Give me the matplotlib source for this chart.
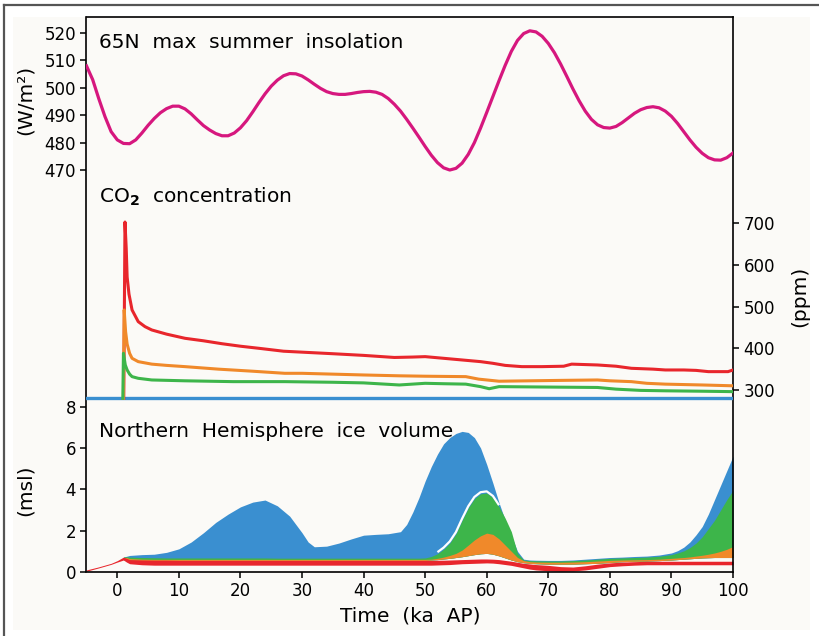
import numpy as np
import matplotlib
matplotlib.use("Agg")
import matplotlib.pyplot as plt
from matplotlib.lines import Line2D
from matplotlib.patches import Rectangle

nan = np.nan

# ---------------- data ----------------
# 65N max summer insolation (W/m2), 1 ka steps from -5 to 100 ka AP
ins_ka = np.arange(-5, 101, 1)
ins_wm2 = [508, 503, 496, 489.5, 484, 481, 479.7, 479.6, 481, 483.5,
           486.3, 488.8, 490.9, 492.4, 493.3, 493.3, 492.3, 490.5, 488.3, 486.2,
           484.6, 483.3, 482.5, 482.5, 483.5, 485.4, 488, 491.2, 494.6, 497.8,
           500.6, 502.8, 504.4, 505.2, 505.1, 504.3, 502.9, 501.3, 499.8, 498.6,
           497.9, 497.6, 497.6, 497.9, 498.3, 498.6, 498.7, 498.4, 497.6, 496.1,
           494, 491.5, 488.5, 485.3, 482, 478.6, 475.4, 472.7, 470.8, 470,
           470.6, 472.5, 475.7, 480, 485.3, 491, 496.8, 502.6, 508.2, 513.3,
           517.3, 519.8, 520.8, 520.4, 518.8, 516.2, 512.8, 508.7, 504.2, 499.6,
           495.3, 491.5, 488.5, 486.5, 485.5, 485.3, 485.9, 487.3, 489, 490.7,
           492, 492.8, 493.1, 492.7, 491.5, 489.6, 487, 484, 481, 478.3,
           476.1, 474.5, 473.7, 473.6, 474.5, 476.2]

# CO2 concentration (ppm)
base_ka = [-5, 100]
base_ppm = [280, 280]
red_ka = [1.05, 1.25, 1.45, 1.6, 1.9, 2.4, 3.4, 4.5, 5.6, 8, 11, 14, 17, 20, 23, 27,
          31, 35, 40, 45, 48, 50, 53, 56, 59, 61, 63, 65.7, 69, 72.5, 73.8, 78, 81,
          83.5, 87, 89, 92, 94, 96, 99.2, 100]
red_ppm = [280, 703, 640, 571, 530, 492, 464, 452, 444, 434, 424, 418, 411, 405, 400, 393,
           390, 387, 383, 378, 379, 380, 376, 372, 368, 364, 359, 356, 356, 357, 362, 360, 357,
           352, 350, 348, 348, 347, 344, 344, 348]
orange_ka = [1.0, 1.12, 1.35, 1.6, 2.0, 2.4, 3.4, 5.6, 8, 11, 16.4, 22, 27.2, 30, 35, 40,
             45.8, 50, 56.6, 58.7, 62, 67, 72, 78, 80, 83.5, 86, 89, 95, 100]
orange_ppm = [280, 492, 440, 410, 388, 376, 368, 362, 359, 356, 350, 345, 340, 340, 338, 336,
              334, 333, 332, 326, 321, 322, 323, 324, 322, 320, 316, 314, 312, 310]
green_ka = [0.9, 1.0, 1.3, 1.6, 2.0, 2.4, 3.4, 5.6, 11, 18.8, 27.2, 35, 40, 45.8, 50, 53,
            56.6, 59, 60.4, 62, 70, 78, 81, 85, 89, 95, 100]
green_ppm = [280, 388, 360, 348, 338, 332, 328, 324, 322, 320, 320, 318.5, 317, 312, 316, 315,
             314, 308, 303, 308, 307, 306, 302, 299, 298, 297, 296]

# Northern Hemisphere ice volume (m sea level): bands per scenario
ice_ka = [-5, -3, -1, 0, 1, 1.5, 2, 4, 6, 8, 10, 12, 14, 16, 18, 20, 22, 24, 26, 28,
          30, 31, 32, 34, 36, 38, 40, 42, 44, 46, 47, 48, 49, 50, 51, 52, 53, 54, 55, 56,
          57, 58, 59, 60, 61, 62, 63, 64, 65, 66, 67, 68, 70, 72, 74, 76, 78, 80, 82, 84,
          86, 88, 90, 91, 92, 93, 94, 95, 96, 97, 98, 99, 100]
blue_hi = [nan, nan, nan, nan, 0.72, 0.76, 0.8, 0.84, 0.86, 0.95, 1.12, 1.45, 1.9, 2.4, 2.8, 3.15, 3.38, 3.48, 3.2, 2.7,
           1.9, 1.45, 1.22, 1.25, 1.4, 1.6, 1.78, 1.82, 1.85, 1.95, 2.3, 2.9, 3.6, 4.4, 5.1, 5.7, 6.2, 6.5, 6.7, 6.8,
           6.75, 6.5, 6.0, 5.2, 4.3, 3.35, 2.5, 1.75, 1.0, 0.62, 0.58, 0.57, 0.56, 0.56, 0.58, 0.62, 0.66, 0.7, 0.72, 0.75,
           0.77, 0.82, 0.92, 1.03, 1.2, 1.45, 1.8, 2.2, 2.8, 3.5, 4.2, 4.9, 5.6]
green_hi = [nan, nan, nan, nan, 0.72, 0.74, 0.72, 0.7, 0.69, 0.68, 0.68, 0.68, 0.68, 0.68, 0.68, 0.68, 0.68, 0.68, 0.67, 0.67,
            0.67, 0.67, 0.67, 0.67, 0.67, 0.67, 0.67, 0.67, 0.67, 0.67, 0.67, 0.67, 0.67, 0.68, 0.75, 0.88, 1.1, 1.4, 1.85, 2.5,
            3.1, 3.55, 3.78, 3.82, 3.6, 3.15, 2.6, 1.95, 0.9, 0.58, 0.55, 0.54, 0.53, 0.53, 0.55, 0.58, 0.62, 0.66, 0.68, 0.7,
            0.72, 0.76, 0.84, 0.92, 1.02, 1.18, 1.4, 1.7, 2.1, 2.5, 3.0, 3.5, 3.95]
orange_hi = [nan, nan, nan, nan, 0.7, 0.7, 0.65, 0.62, 0.61, 0.61, 0.61, 0.61, 0.61, 0.61, 0.61, 0.61, 0.61, 0.61, 0.61, 0.61,
             0.61, 0.61, 0.61, 0.61, 0.61, 0.61, 0.61, 0.61, 0.61, 0.61, 0.61, 0.61, 0.61, 0.61, 0.62, 0.66, 0.72, 0.8, 0.9, 1.06,
             1.3, 1.55, 1.75, 1.88, 1.82, 1.6, 1.3, 1.0, 0.7, 0.55, 0.5, 0.48, 0.47, 0.47, 0.48, 0.5, 0.53, 0.56, 0.58, 0.59,
             0.6, 0.62, 0.66, 0.68, 0.7, 0.73, 0.77, 0.81, 0.86, 0.92, 1.0, 1.1, 1.23]
stack_lo = [nan, nan, nan, nan, 0.6, 0.58, 0.57, 0.56, 0.56, 0.56, 0.56, 0.56, 0.56, 0.56, 0.56, 0.56, 0.56, 0.56, 0.56, 0.56,
            0.56, 0.56, 0.56, 0.56, 0.56, 0.56, 0.56, 0.56, 0.56, 0.56, 0.56, 0.56, 0.56, 0.56, 0.58, 0.6, 0.63, 0.66, 0.7, 0.74,
            0.79, 0.84, 0.88, 0.9, 0.86, 0.78, 0.68, 0.58, 0.5, 0.45, 0.42, 0.4, 0.38, 0.38, 0.38, 0.4, 0.42, 0.46, 0.5, 0.52,
            0.53, 0.55, 0.58, 0.6, 0.62, 0.64, 0.66, 0.68, 0.69, 0.7, 0.7, 0.7, 0.7]
red_hi = [0.1, 0.25, 0.42, 0.55, 0.72, 0.66, 0.6, 0.58, 0.57, 0.57, 0.56, 0.56, 0.56, 0.56, 0.56, 0.56, 0.56, 0.56, 0.56, 0.56,
          0.56, 0.56, 0.56, 0.56, 0.56, 0.56, 0.56, 0.56, 0.56, 0.56, 0.56, 0.56, 0.56, 0.56, 0.56, 0.57, 0.57, 0.58, 0.59, 0.6,
          0.61, 0.62, 0.63, 0.63, 0.62, 0.6, 0.56, 0.52, 0.47, 0.42, 0.39, 0.36, 0.32, 0.26, 0.24, 0.3, 0.38, 0.44, 0.48, 0.5,
          0.52, 0.52, 0.52, 0.52, 0.52, 0.52, 0.52, 0.52, 0.52, 0.52, 0.52, 0.52, 0.52]
red_lo = [0.04, 0.2, 0.37, 0.48, 0.58, 0.48, 0.4, 0.35, 0.33, 0.33, 0.33, 0.33, 0.33, 0.33, 0.33, 0.33, 0.33, 0.33, 0.33, 0.33,
          0.33, 0.33, 0.33, 0.33, 0.33, 0.33, 0.33, 0.33, 0.33, 0.33, 0.33, 0.33, 0.33, 0.33, 0.33, 0.34, 0.35, 0.36, 0.38, 0.4,
          0.41, 0.42, 0.43, 0.44, 0.43, 0.4, 0.36, 0.32, 0.26, 0.2, 0.14, 0.1, 0.06, 0.04, 0.05, 0.1, 0.18, 0.26, 0.3, 0.33,
          0.35, 0.35, 0.35, 0.35, 0.35, 0.35, 0.35, 0.35, 0.35, 0.35, 0.35, 0.35, 0.35]

ins_ticks = [470, 480, 490, 500, 510, 520]
co2_ticks = [300, 400, 500, 600, 700]
ice_ticks = [0, 2, 4, 6, 8]
time_ticks = [0, 10, 20, 30, 40, 50, 60, 70, 80, 90, 100]

# ---------------- style ----------------
C_MAG = '#d6177e'
C_BLUE = '#3a8fd0'
C_GREEN = '#3db54a'
C_ORANGE = '#f0892a'
C_RED = '#e8262c'
BG = '#fbfaf7'

plt.rcParams['font.family'] = ['DejaVu Sans']
W, H = 820, 636
fig = plt.figure(figsize=(W / 100, H / 100), dpi=100, facecolor='white')

def fx(px):
    return px / W

def fy(py):
    return 1 - py / H

# off-white panel and gray frame lines
bgrect = Rectangle((fx(13), fy(630)), fx(810) - fx(13), fy(17) - fy(630),
                   transform=fig.transFigure, facecolor=BG, edgecolor='none', zorder=-5)
fig.add_artist(bgrect)
fig.add_artist(Line2D([fx(4), fx(820)], [fy(5), fy(5)], color='#555555', lw=1.6, zorder=-4))
fig.add_artist(Line2D([fx(4), fx(4)], [fy(5), fy(636)], color='#555555', lw=1.6, zorder=-4))

L, R, T, B = 86.5, 733, 17, 572
rect = [fx(L), fy(B), fx(R) - fx(L), fy(T) - fy(B)]
xlim = (-5, 100)

ax_ice = fig.add_axes(rect, zorder=1)
ax_co2 = fig.add_axes(rect, sharex=ax_ice, zorder=2)
ax_ins = fig.add_axes(rect, sharex=ax_ice, zorder=3)

for a in (ax_ice, ax_co2, ax_ins):
    a.set_xlim(*xlim)
    a.tick_params(direction='out', length=4.5, width=1.1, labelsize=12, pad=3)

ax_ice.set_facecolor(BG)
for a in (ax_co2, ax_ins):
    a.patch.set_visible(False)
    for s in a.spines.values():
        s.set_visible(False)
for s in ax_ice.spines.values():
    s.set_linewidth(1.2)

# --- ice volume panel ---
ax_ice.set_ylim(0, 26.84)
ax_ice.set_yticks(ice_ticks)
ax_ice.set_xticks(time_ticks)
ka = np.array(ice_ka, dtype=float)
ax_ice.fill_between(ka, stack_lo, blue_hi, color=C_BLUE, lw=0)
ax_ice.fill_between(ka, stack_lo, green_hi, color=C_GREEN, lw=0)
gh = np.array(green_hi, dtype=float)
mask = (ka >= 52) & (ka <= 62.5)
ax_ice.plot(ka[mask], gh[mask] + 0.08, color='white', lw=1.6, solid_capstyle='butt')
ax_ice.fill_between(ka, stack_lo, orange_hi, color=C_ORANGE, lw=0)
ax_ice.fill_between(ka, red_lo, red_hi, color=C_RED, lw=0)

# --- CO2 panel ---
ax_co2.set_ylim(-136.8, 1195)
ax_co2.yaxis.tick_right()
ax_co2.set_yticks(co2_ticks)
ax_co2.tick_params(axis='x', bottom=False, labelbottom=False)
ax_co2.plot(base_ka, base_ppm, color=C_BLUE, lw=2.4)
ax_co2.plot(red_ka, red_ppm, color=C_RED, lw=2.2)
ax_co2.plot(orange_ka, orange_ppm, color=C_ORANGE, lw=2.2)
ax_co2.plot(green_ka, green_ppm, color=C_GREEN, lw=2.2)

# --- insolation panel ---
ax_ins.set_ylim(323.3, 525.84)
ax_ins.set_yticks(ins_ticks)
ax_ins.tick_params(axis='x', bottom=False, labelbottom=False)
ax_ins.plot(ins_ka, ins_wm2, color=C_MAG, lw=2.3)

# --- texts ---
fs = 14.5
fig.text(fx(99), fy(48), '65N  max  summer  insolation', fontsize=fs, va='baseline')
fig.text(fx(99), fy(203), r'CO$_\mathbf{2}$  concentration', fontsize=fs, va='baseline')
fig.text(fx(99), fy(437), 'Northern  Hemisphere  ice  volume', fontsize=fs, va='baseline')
fig.text(fx(25), fy(100), '(W/m²)', fontsize=fs, rotation=90, ha='center', va='center')
fig.text(fx(25), fy(490), '(msl)', fontsize=fs, rotation=90, ha='center', va='center')
fig.text(fx(800), fy(296), '(ppm)', fontsize=fs, rotation=90, ha='center', va='center')
fig.text(fx(410), fy(616), 'Time  (ka  AP)', fontsize=fs, ha='center', va='center')

fig.savefig('out.png', dpi=100, facecolor='white')
